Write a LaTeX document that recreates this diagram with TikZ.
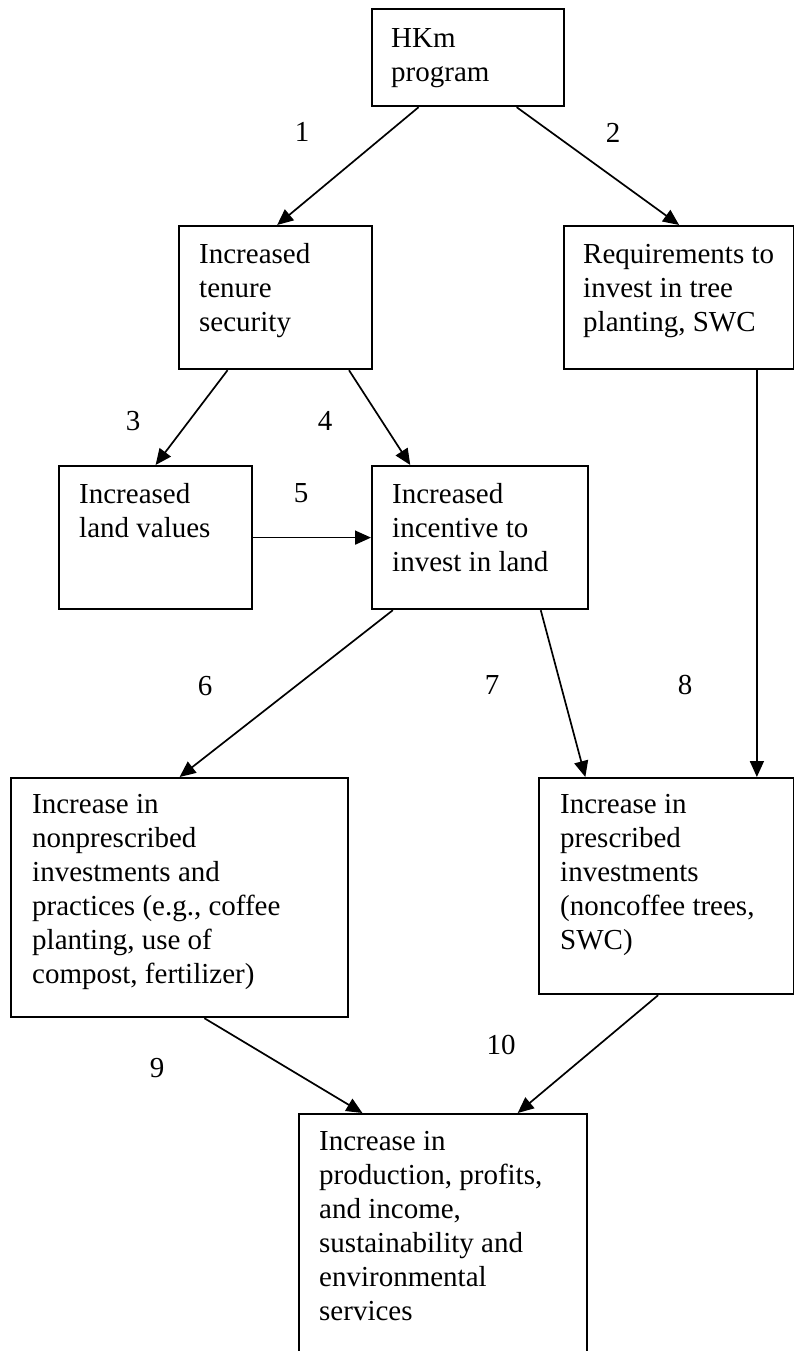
\documentclass[tikz,border=0pt]{standalone}
\usepackage{fontspec}
\setmainfont{Liberation Serif}
\usetikzlibrary{arrows.meta,calc}
\begin{document}
\begin{tikzpicture}[x=1pt,y=-1pt,
  box/.style 2 args={draw, line width=2.2pt, rectangle, anchor=north west,
    inner sep=0pt, minimum width=#1, minimum height=#2},
  txt/.style={anchor=north west, inner sep=0pt, align=left,
    font=\fontsize{29}{34}\selectfont},
  lab/.style={inner sep=0pt, font=\fontsize{29}{34}\selectfont},
  arr/.style={-{Triangle[length=16pt,width=14pt]}, line width=1.7pt}]
\useasboundingbox (0,0) rectangle (794,1351);

% boxes
\node[box={192}{97}]  (hkm)  at (371,8)    {};
\node[box={193}{143}] (ten)  at (178,225)  {};
\node[box={230}{143}] (req)  at (563,225)  {};
\node[box={193}{143}] (land) at (58,465)   {};
\node[box={216}{143}] (inc)  at (371,465)  {};
\node[box={337}{239}] (non)  at (10,777)   {};
\node[box={255}{216}] (pres) at (538,777)  {};
\node[box={288}{260}] (out)  at (298,1113) {};

% texts
\node[txt] (thkm)  at (391,23.2)  {\strut HKm\\program};
\node[txt] (tten)  at (199,239.2) {\strut Increased\\tenure\\security};
\node[txt] (treq)  at (583,239.2) {\strut Requirements to\\invest in tree\\planting, SWC};
\node[txt] (tland) at (79,479.2)  {\strut Increased\\land values};
\node[txt] (tinc)  at (392,479.2) {\strut Increased\\incentive to\\invest in land};
\node[txt] (tnon)  at (32,789.2)  {\strut Increase in\\nonprescribed\\investments and\\practices (e.g., coffee\\planting, use of\\compost, fertilizer)};
\node[txt] (tpres) at (560,789.2) {\strut Increase in\\prescribed\\investments\\(noncoffee trees,\\SWC)};
\node[txt] (tout)  at (319,1126.2) {\strut Increase in\\production, profits,\\and income,\\sustainability and\\environmental\\services};

% connector end points
\coordinate (a1s) at ($(hkm.south west)!0.245!(hkm.south east)$);
\coordinate (a1e) at ($(ten.north west)!0.508!(ten.north east)$);
\coordinate (a2s) at ($(hkm.south west)!0.75!(hkm.south east)$);
\coordinate (a3s) at ($(ten.south west)!0.254!(ten.south east)$);
\coordinate (a4s) at ($(ten.south west)!0.876!(ten.south east)$);
\coordinate (a4e) at ($(inc.north west)!0.18!(inc.north east)$);
\coordinate (a6s) at ($(inc.south west)!0.10!(inc.south east)$);
\coordinate (a7s) at ($(inc.south west)!0.778!(inc.south east)$);
\coordinate (a7e) at ($(pres.north west)!0.184!(pres.north east)$);
\coordinate (a8s) at ($(req.south west)!0.835!(req.south east)$);
\coordinate (a9s) at ($(non.south west)!0.573!(non.south east)$);
\coordinate (a9e) at ($(out.north west)!0.222!(out.north east)$);
\coordinate (a10s) at ($(pres.south west)!0.467!(pres.south east)$);
\coordinate (a10e) at ($(out.north west)!0.757!(out.north east)$);

% connectors
\draw[arr] (a1s) -- (a1e);
\draw[arr] (a2s) -- (req.north);
\draw[arr] (a3s) -- (land.north);
\draw[arr] (a4s) -- (a4e);
\draw[arr] (land.east) -- (inc.west);
\draw[arr] (a6s) -- (non.north);
\draw[arr] (a7s) -- (a7e);
\draw[arr] (a8s) -- (a8s |- pres.north);
\draw[arr] (a9s) -- (a9e);
\draw[arr] (a10s) -- (a10e);

% labels
\node[lab] (l1)  at (302,132)  {1};
\node[lab] (l2)  at (613,133)  {2};
\node[lab] (l3)  at (133,421)  {3};
\node[lab] (l4)  at (325,421)  {4};
\node[lab] (l5)  at (301,493)  {5};
\node[lab] (l6)  at (205,686)  {6};
\node[lab] (l7)  at (492,685)  {7};
\node[lab] (l8)  at (685,685)  {8};
\node[lab] (l9)  at (157,1068) {9};
\node[lab] (l10) at (501,1045) {10};
\end{tikzpicture}
\end{document}
